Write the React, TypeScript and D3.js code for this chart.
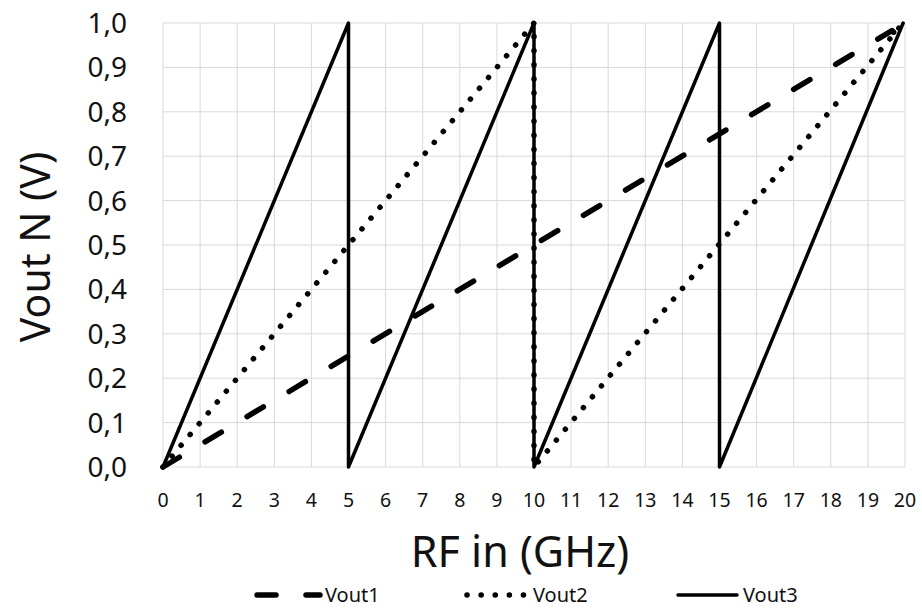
import React, { useEffect, useRef } from 'react';
import * as d3 from 'd3';

// series values (x in GHz, y in V)
const vout1X = [0, 19.65, 19.83];
const vout1Y = [0, 0.983, 0.968];
const vout2X = [0, 10, 10, 19.85];
const vout2Y = [0, 1, 0, 0.99];
const vout3X = [0, 5, 5, 10, 10, 15, 15, 19.95];
const vout3Y = [0, 1, 0, 1, 0, 1, 0, 1];

const xTicks = d3.range(0, 21, 1);
const yTicks = d3.range(0, 11, 1).map(d => d / 10);

const seriesNames = ['Vout1', 'Vout2', 'Vout3'];

const W = 922;
const H = 611;
const FONT = '"Noto Sans", "Open Sans", sans-serif';

const App: React.FC = () => {
  const svgRef = useRef<SVGSVGElement>(null);

  useEffect(() => {
    if (!svgRef.current) return;
    document.body.style.margin = '0';

    const svg = d3.select(svgRef.current);
    svg.selectAll('*').remove();

    const margin = { top: 23, right: 17, bottom: 144, left: 163 };

    const x = d3.scaleLinear()
      .domain([0, 20])
      .range([margin.left, W - margin.right]);

    const y = d3.scaleLinear()
      .domain([0, 1])
      .range([H - margin.bottom, margin.top]);

    const g = svg.append('g');

    // grid
    g.append('g')
      .selectAll('line')
      .data(xTicks)
      .join('line')
      .attr('x1', d => x(d))
      .attr('x2', d => x(d))
      .attr('y1', y(0))
      .attr('y2', y(1))
      .attr('stroke', '#d9d9d9')
      .attr('stroke-width', 1);

    g.append('g')
      .selectAll('line')
      .data(yTicks)
      .join('line')
      .attr('x1', x(0))
      .attr('x2', x(20))
      .attr('y1', d => y(d))
      .attr('y2', d => y(d))
      .attr('stroke', '#d9d9d9')
      .attr('stroke-width', 1);

    // tick labels
    const fmt = (v: number) => d3.format('.1f')(v).replace('.', ',');

    g.append('g')
      .selectAll('text')
      .data(yTicks)
      .join('text')
      .attr('x', margin.left - 36)
      .attr('y', d => y(d))
      .attr('dy', '0.36em')
      .attr('text-anchor', 'end')
      .attr('font-family', FONT)
      .attr('font-size', 28)
      .attr('fill', '#111')
      .text(d => fmt(d));

    g.append('g')
      .selectAll('text')
      .data(xTicks)
      .join('text')
      .attr('x', d => x(d))
      .attr('y', y(0) + 40)
      .attr('text-anchor', 'middle')
      .attr('font-family', FONT)
      .attr('font-size', 19.5)
      .attr('fill', '#111')
      .text(d => String(d));

    // axis titles
    svg.append('text')
      .attr('x', 520)
      .attr('y', 567)
      .attr('text-anchor', 'middle')
      .attr('font-family', FONT)
      .attr('font-size', 43)
      .attr('fill', '#111')
      .text('RF in (GHz)');

    svg.append('text')
      .attr('transform', 'translate(50,247) rotate(-90)')
      .attr('text-anchor', 'middle')
      .attr('font-family', FONT)
      .attr('font-size', 41)
      .attr('fill', '#111')
      .text('Vout N (V)');

    // line styles
    const styles = [
      { width: 5.5, dash: '19 30' },
      { width: 5.5, dash: '0.1 14' },
      { width: 3.5, dash: null as string | null },
    ];

    const line = d3.line<[number, number]>()
      .x(d => x(d[0]))
      .y(d => y(d[1]));

    const series: [number, number][][] = [
      vout1X.map((v, i) => [v, vout1Y[i]]),
      vout2X.map((v, i) => [v, vout2Y[i]]),
      vout3X.map((v, i) => [v, vout3Y[i]]),
    ];

    series.forEach((pts, i) => {
      const p = g.append('path')
        .datum(pts)
        .attr('fill', 'none')
        .attr('stroke', '#000')
        .attr('stroke-width', styles[i].width)
        .attr('stroke-linecap', 'round')
        .attr('stroke-linejoin', 'round')
        .attr('d', line);
      if (styles[i].dash) p.attr('stroke-dasharray', styles[i].dash);
    });

    // legend
    const legendY = 595;
    const legendItems = [
      { x1: 257, x2: 320, tx: 325 },
      { x1: 467, x2: 525, tx: 533 },
      { x1: 678, x2: 737, tx: 743 },
    ];
    const leg = svg.append('g');
    legendItems.forEach((it, i) => {
      const l = leg.append('line')
        .attr('x1', it.x1)
        .attr('x2', it.x2)
        .attr('y1', legendY)
        .attr('y2', legendY)
        .attr('stroke', '#000')
        .attr('stroke-width', styles[i].width)
        .attr('stroke-linecap', 'round');
      if (styles[i].dash) l.attr('stroke-dasharray', styles[i].dash);
      leg.append('text')
        .attr('x', it.tx)
        .attr('y', legendY)
        .attr('dy', '0.36em')
        .attr('font-family', FONT)
        .attr('font-size', 20)
        .attr('fill', '#111')
        .text(seriesNames[i]);
    });
  }, []);

  return (
    <svg
      ref={svgRef}
      width={W}
      height={H}
      style={{ position: 'absolute', left: 0, top: 0, background: '#fff' }}
    />
  );
};

export default App;
